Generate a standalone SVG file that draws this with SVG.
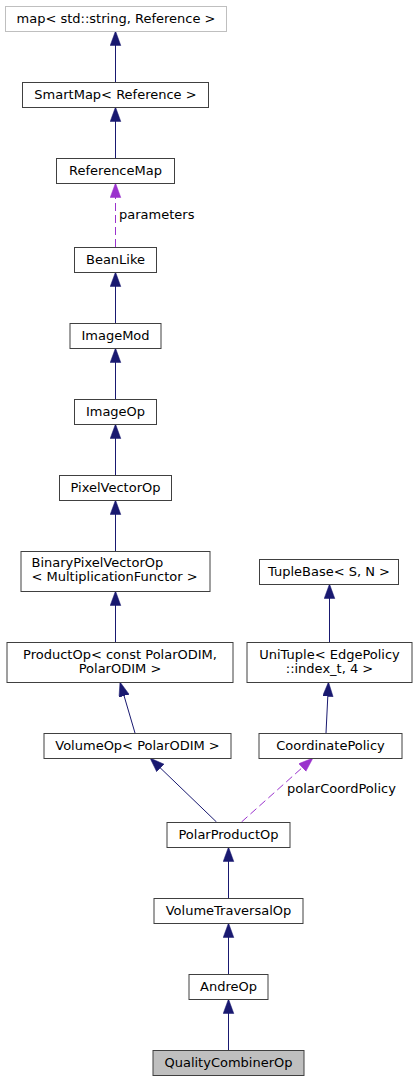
<svg xmlns="http://www.w3.org/2000/svg" width="417" height="1081" viewBox="0 0 417 1081">
<defs>
<style>
.n rect{fill:#ffffff;stroke:#404040;stroke-width:1}
.n.ext rect{stroke:#bfbfbf}
.n.cur rect{fill:#bfbfbf}
text{font-family:"DejaVu Sans","Liberation Sans",sans-serif;font-size:13px;fill:#000000}
.c{text-anchor:middle}
.e{fill:none;stroke:#191970;stroke-width:1;marker-end:url(#ab)}
.u{fill:none;stroke:#9a32cd;stroke-width:1;stroke-dasharray:8,4;marker-end:url(#ap)}
</style>
<marker id="ab" markerUnits="userSpaceOnUse" markerWidth="16" markerHeight="12" refX="14.5" refY="5.3" orient="auto"><path d="M0,0 L14.5,5.3 L0,10.6 z" fill="#191970" stroke="#191970" stroke-width="0.5"/></marker>
<marker id="ap" markerUnits="userSpaceOnUse" markerWidth="16" markerHeight="12" refX="14.5" refY="5.3" orient="auto"><path d="M0,0 L14.5,5.3 L0,10.6 z" fill="#9a32cd" stroke="#9a32cd" stroke-width="0.5"/></marker>
</defs>
<rect width="417" height="1081" fill="#ffffff"/>
<g id="edges">
<path class="e" d="M115.5,82 L115.5,31"/>
<path class="e" d="M115.5,158 L115.5,107"/>
<path class="u" d="M115.5,247 L115.5,183"/>
<text x="119" y="218.5">parameters</text>
<path class="e" d="M115.5,323 L115.5,272"/>
<path class="e" d="M115.5,399 L115.5,348"/>
<path class="e" d="M115.5,475 L115.5,424"/>
<path class="e" d="M115.5,551 L115.5,500"/>
<path class="e" d="M115.5,642 L115.5,591"/>
<path class="e" d="M135,733 L120,682"/>
<path class="e" d="M216.5,822 L150,758"/>
<path class="u" d="M241.5,822 L313,758"/>
<text x="287" y="793">polarCoordPolicy</text>
<path class="e" d="M326,733 L328.5,682"/>
<path class="e" d="M329.5,642 L329.5,584"/>
<path class="e" d="M228.5,898 L228.5,847"/>
<path class="e" d="M228.5,974 L228.5,923"/>
<path class="e" d="M228.5,1050 L228.5,999"/>
</g>
<g id="node_map" class="n ext"><rect x="5.5" y="6.5" width="221" height="25"/><text class="c" x="116" y="23">map&lt; std::string, Reference &gt;</text></g>
<g id="node_SmartMap" class="n"><rect x="22.5" y="82.5" width="186" height="25"/><text class="c" x="115.5" y="99">SmartMap&lt; Reference &gt;</text></g>
<g id="node_ReferenceMap" class="n"><rect x="56.5" y="158.5" width="118" height="25"/><text class="c" x="115.5" y="175">ReferenceMap</text></g>
<g id="node_BeanLike" class="n"><rect x="74.5" y="247.5" width="82" height="25"/><text class="c" x="115.5" y="264">BeanLike</text></g>
<g id="node_ImageMod" class="n"><rect x="70" y="323.5" width="91" height="25"/><text class="c" x="115.5" y="340">ImageMod</text></g>
<g id="node_ImageOp" class="n"><rect x="74.5" y="399.5" width="82" height="25"/><text class="c" x="115.5" y="416">ImageOp</text></g>
<g id="node_PixelVectorOp" class="n"><rect x="59.5" y="475.5" width="112" height="25"/><text class="c" x="115.5" y="492">PixelVectorOp</text></g>
<g id="node_BinaryPixelVectorOp" class="n"><rect x="21" y="551.5" width="189" height="40"/><text x="31.5" y="567">BinaryPixelVectorOp</text><text x="31.5" y="581">&lt; MultiplicationFunctor &gt;</text></g>
<g id="node_ProductOp" class="n"><rect x="7" y="642.5" width="226" height="40"/><text class="c" x="120" y="659">ProductOp&lt; const PolarODIM,</text><text class="c" x="120" y="673">PolarODIM &gt;</text></g>
<g id="node_VolumeOp" class="n"><rect x="44" y="733.5" width="187" height="25"/><text class="c" x="137.5" y="750">VolumeOp&lt; PolarODIM &gt;</text></g>
<g id="node_TupleBase" class="n"><rect x="259.5" y="559.5" width="139" height="25"/><text class="c" x="329" y="576">TupleBase&lt; S, N &gt;</text></g>
<g id="node_UniTuple" class="n"><rect x="247" y="642.5" width="165" height="40"/><text class="c" x="329.5" y="659">UniTuple&lt; EdgePolicy</text><text class="c" x="329.5" y="673">::index_t, 4 &gt;</text></g>
<g id="node_CoordinatePolicy" class="n"><rect x="259" y="733.5" width="143" height="25"/><text class="c" x="330.5" y="750">CoordinatePolicy</text></g>
<g id="node_PolarProductOp" class="n"><rect x="167" y="822.5" width="123" height="25"/><text class="c" x="228.5" y="839">PolarProductOp</text></g>
<g id="node_VolumeTraversalOp" class="n"><rect x="154" y="898.5" width="149" height="25"/><text class="c" x="228.5" y="915">VolumeTraversalOp</text></g>
<g id="node_AndreOp" class="n"><rect x="189" y="974.5" width="79" height="25"/><text class="c" x="228.5" y="991">AndreOp</text></g>
<g id="node_QualityCombinerOp" class="n cur"><rect x="153" y="1050.5" width="151" height="25"/><text class="c" x="228.5" y="1067">QualityCombinerOp</text></g>
</svg>
